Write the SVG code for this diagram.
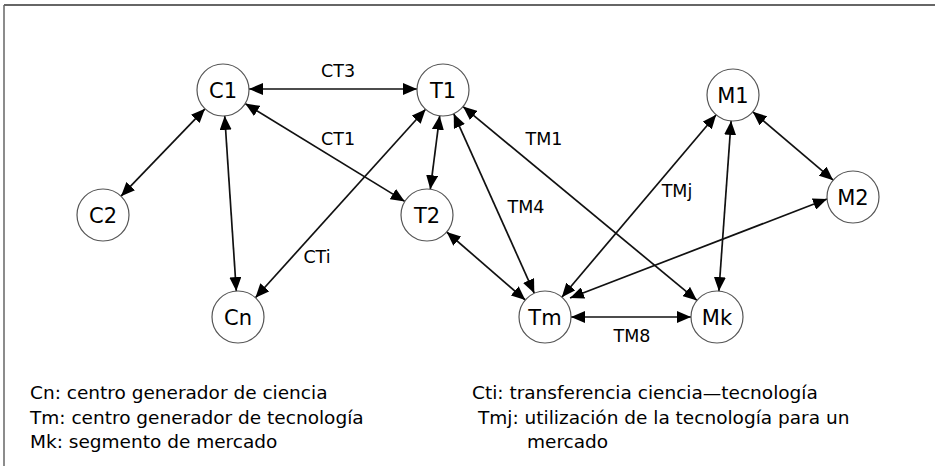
<svg xmlns="http://www.w3.org/2000/svg" width="935" height="466" viewBox="0 0 935 466">
<style>
.node circle{fill:#fff;stroke:#555;stroke-width:1.2}
.node text{font-family:"DejaVu Sans",Verdana,sans-serif;font-size:21px;text-anchor:middle;fill:#000}
.edges line{stroke:#111;stroke-width:1.7;marker-start:url(#ah);marker-end:url(#ah)}
.lbl{font-family:"DejaVu Sans",Verdana,sans-serif;font-size:17.5px;text-anchor:middle;fill:#000}
.leg{font-family:"DejaVu Sans",Verdana,sans-serif;font-size:18.5px;fill:#000}
.frame{stroke:#666;fill:none}
</style>
<defs>
<marker id="ah" viewBox="0 0 14 12" refX="14" refY="6" markerWidth="14" markerHeight="12" markerUnits="userSpaceOnUse" orient="auto-start-reverse">
<path d="M0,0 L14,6 L0,12 z" fill="#000"/>
</marker>
</defs>
<rect width="935" height="466" fill="#fff"/>
<line class="frame" x1="4" y1="5" x2="935" y2="5" stroke-width="2"/>
<line class="frame" x1="4" y1="5" x2="4" y2="466" stroke-width="1.5"/>

<g class="edges" id="connectors">
<line x1="249" y1="89" x2="417" y2="89"/>
<line x1="245.2" y1="103.6" x2="404.8" y2="201.4"/>
<line x1="205" y1="108.8" x2="121" y2="196.2"/>
<line x1="224.7" y1="115.9" x2="236.3" y2="291.1"/>
<line x1="425.6" y1="109.3" x2="255.4" y2="297.7"/>
<line x1="439.7" y1="115.8" x2="430.3" y2="189.2"/>
<line x1="453.7" y1="113.7" x2="534.3" y2="293.3"/>
<line x1="463" y1="106.6" x2="697" y2="300.4"/>
<line x1="446.7" y1="232" x2="525.3" y2="300"/>
<line x1="561.8" y1="297.2" x2="716.2" y2="114.8"/>
<line x1="570" y1="298" x2="827" y2="199"/>
<line x1="571" y1="317" x2="691" y2="317"/>
<line x1="731.1" y1="120.9" x2="718.9" y2="291.1"/>
<line x1="752.8" y1="111.8" x2="833.2" y2="180.2"/>
</g>

<g id="edge-labels">
<text class="lbl" x="338" y="77">CT3</text>
<text class="lbl" x="338" y="145">CT1</text>
<text class="lbl" x="317" y="263">CTi</text>
<text class="lbl" x="544" y="145">TM1</text>
<text class="lbl" x="526" y="213">TM4</text>
<text class="lbl" x="677" y="197">TMj</text>
<text class="lbl" x="632" y="342">TM8</text>
</g>

<g class="node" id="C1"><circle cx="223" cy="90" r="26"/><text x="223" y="97.5">C1</text></g>
<g class="node" id="C2"><circle cx="103" cy="215" r="26"/><text x="103" y="222.5">C2</text></g>
<g class="node" id="Cn"><circle cx="238" cy="317" r="26"/><text x="238" y="324.5">Cn</text></g>
<g class="node" id="T1"><circle cx="443" cy="90" r="26"/><text x="443" y="97.5">T1</text></g>
<g class="node" id="T2"><circle cx="427" cy="215" r="26"/><text x="427" y="222.5">T2</text></g>
<g class="node" id="Tm"><circle cx="545" cy="317" r="26"/><text x="545" y="324.5">Tm</text></g>
<g class="node" id="M1"><circle cx="733" cy="95" r="26"/><text x="733" y="102.5">M1</text></g>
<g class="node" id="M2"><circle cx="853" cy="197" r="26"/><text x="853" y="204.5">M2</text></g>
<g class="node" id="Mk"><circle cx="717" cy="317" r="26"/><text x="717" y="324.5">Mk</text></g>

<g id="legend">
<text class="leg" x="30" y="399">Cn: centro generador de ciencia</text>
<text class="leg" x="30" y="424">Tm: centro generador de tecnología</text>
<text class="leg" x="30" y="448">Mk: segmento de mercado</text>
<text class="leg" x="472" y="399">Cti: transferencia ciencia—tecnología</text>
<text class="leg" x="478" y="424">Tmj: utilización de la tecnología para un</text>
<text class="leg" x="527" y="448">mercado</text>
</g>
</svg>
